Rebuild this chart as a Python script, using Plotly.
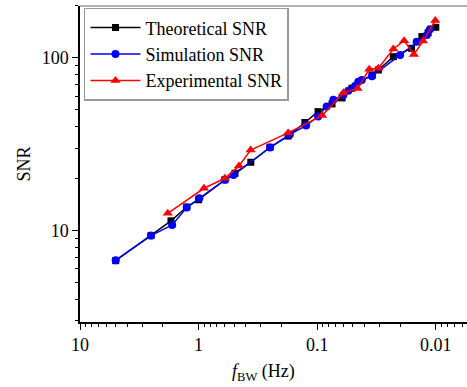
import plotly.graph_objects as go

# Theoretical SNR
theo_x = [5.0, 2.52, 1.71, 1.26, 1.0, 0.6, 0.493, 0.363, 0.25, 0.176, 0.127, 0.0984,
          0.075, 0.0617, 0.051, 0.0345, 0.0305, 0.0228, 0.016, 0.0131, 0.0116, 0.01]
theo_y = [6.7, 9.35, 11.4, 13.7, 15.1, 19.7, 21.5, 24.9, 30.4, 35.3, 42.3, 48.9,
          54.2, 58.7, 66.8, 79.7, 85.2, 101.7, 113.8, 133, 140, 150.6]

# Simulation SNR
sim_x = [5.0, 2.52, 1.67, 1.26, 0.987, 0.6, 0.508, 0.25, 0.17, 0.124, 0.0984, 0.0832,
         0.0731, 0.0602, 0.0547, 0.048, 0.045, 0.0421, 0.0345, 0.02, 0.0145, 0.0119, 0.0112]
sim_y = [6.74, 9.36, 10.8, 13.6, 15.4, 19.7, 21.0, 30.3, 36.1, 40.6, 45.8, 52.4,
         57.2, 61.1, 64.7, 68.9, 72.9, 74.6, 78.5, 104, 124, 136, 146.6]

# Experimental SNR
exp_x = [1.82, 0.90, 0.6, 0.457, 0.364, 0.176, 0.091, 0.06, 0.0457, 0.0364, 0.0305,
         0.0228, 0.0185, 0.0153, 0.0128, 0.0101]
exp_y = [12.6, 17.6, 20.1, 23.7, 29.3, 36.8, 46.4, 63.0, 66.5, 86, 87.1,
         112.8, 126, 104.8, 125.3, 165]

x_tickvals = [10, 1, 0.1, 0.01]
x_ticktext = ["10", "1", "0.1", "0.01"]
y_tickvals = [10, 100]
y_ticktext = ["10", "100"]

FONT = "Liberation Serif"

fig = go.Figure()
fig.add_trace(go.Scatter(x=theo_x, y=theo_y, mode="lines+markers", name="Theoretical SNR",
                         line=dict(color="black", width=1.5),
                         marker=dict(symbol="square", size=7, color="black")))
fig.add_trace(go.Scatter(x=sim_x, y=sim_y, mode="lines+markers", name="Simulation SNR",
                         line=dict(color="blue", width=1.5),
                         marker=dict(symbol="circle", size=8, color="blue")))
fig.add_trace(go.Scatter(x=exp_x, y=exp_y, mode="lines+markers", name="Experimental SNR",
                         line=dict(color="red", width=1.5),
                         marker=dict(symbol="triangle-up", size=9, color="red")))

fig.update_layout(
    width=467, height=387,
    margin=dict(l=80, r=0, t=6, b=65),
    paper_bgcolor="white", plot_bgcolor="white",
    font=dict(family=FONT, size=17, color="black"),
    showlegend=True,
    legend=dict(x=0.0103, y=0.994, xanchor="left", yanchor="top",
                bgcolor="white", bordercolor="#999999", borderwidth=1.5,
                itemwidth=50,
                font=dict(family=FONT, size=18, color="black"), tracegroupgap=0),
    xaxis=dict(type="log", range=[1, -2.263], showgrid=False, zeroline=False,
               showline=True, linecolor="black", linewidth=1.5,
               ticks="outside", ticklen=6, tickwidth=1.2, tickcolor="black",
               tickvals=x_tickvals, ticktext=x_ticktext,
               tickfont=dict(family=FONT, size=18, color="black"),
               minor=dict(ticks="outside", ticklen=3, tickwidth=1, tickcolor="black",
                          dtick="D1", showgrid=False)),
    yaxis=dict(type="log", range=[0.471, 2.301], showgrid=False, zeroline=False,
               showline=True, linecolor="black", linewidth=1.5,
               ticks="outside", ticklen=6, tickwidth=1.2, tickcolor="black",
               tickvals=y_tickvals, ticktext=y_ticktext,
               tickfont=dict(family=FONT, size=18, color="black"),
               title=dict(text="SNR", font=dict(family=FONT, size=18, color="black"), standoff=6),
               minor=dict(ticks="outside", ticklen=3, tickwidth=1, tickcolor="black",
                          dtick="D1", showgrid=False)),
)

fig.add_shape(type="line", xref="paper", yref="paper", x0=0, x1=1, y0=1, y1=1,
              line=dict(color="#999999", width=1.5))

fig.add_annotation(text="<i>f</i><sub>BW</sub> (Hz)", xref="paper", yref="paper",
                   x=0.475, y=0, yshift=-50, yanchor="middle", showarrow=False,
                   font=dict(family=FONT, size=18, color="black"))

fig.write_html("out.html", config={"displayModeBar": False},
               post_script="document.body.style.margin='0';")
